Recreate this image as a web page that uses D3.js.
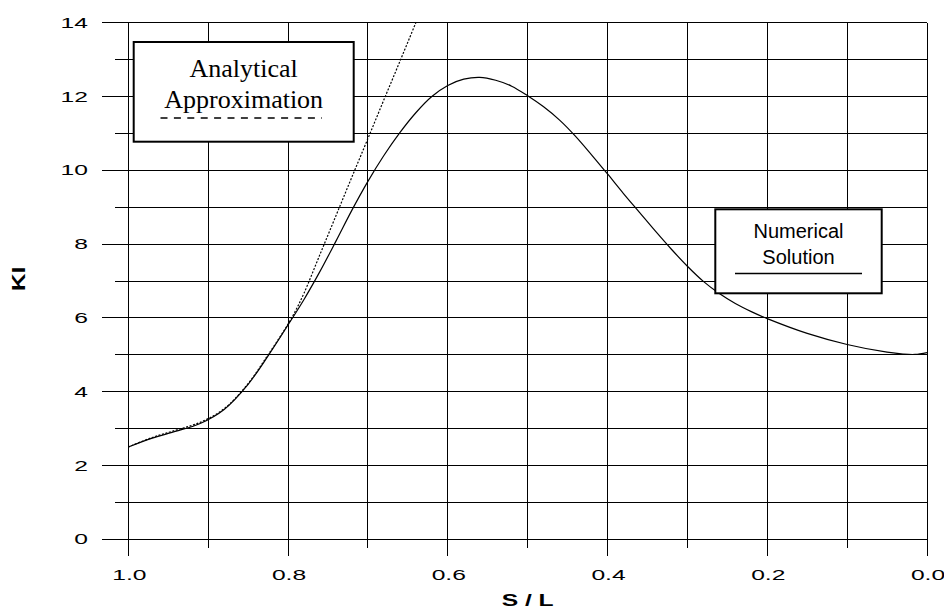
<!DOCTYPE html>
<html><head><meta charset="utf-8">
<script src="https://cdn.jsdelivr.net/npm/d3@7"></script>
<style>
html,body{margin:0;padding:0;background:#fff;}
svg{display:block;}
</style></head>
<body>
<svg id="chart" width="944" height="610"></svg>
<script>
// ---- data ----
const numS = [1.00,0.97,0.94,0.91,0.88,0.85,0.825,0.80,0.78,0.76,0.74,0.72,0.70,0.68,0.66,0.64,0.62,0.60,0.58,0.56,0.54,0.52,0.50,0.48,0.46,0.44,0.42,0.40,0.38,0.36,0.34,0.32,0.30,0.28,0.26,0.24,0.22,0.20,0.15,0.10,0.05,0.03,0.015,0.00];
const numK = [2.50,2.74,2.93,3.14,3.52,4.20,4.97,5.81,6.50,7.26,8.08,8.92,9.70,10.40,11.02,11.56,12.00,12.30,12.47,12.52,12.44,12.28,12.02,11.72,11.36,10.92,10.42,9.90,9.37,8.86,8.35,7.86,7.40,6.99,6.66,6.39,6.17,5.98,5.58,5.28,5.07,5.02,5.01,5.06];
const anaS = [1.00,0.97,0.94,0.91,0.88,0.85,0.825,0.80,0.79,0.78,0.76,0.74,0.72,0.70,0.68,0.66,0.64];
const anaK = [2.50,2.76,2.96,3.17,3.54,4.22,5.00,5.83,6.22,6.67,7.72,8.77,9.82,10.86,11.91,12.95,14.00];
const xTickValues = [1.0,0.8,0.6,0.4,0.2,0.0];
const xTickLabels = ["1.0","0.8","0.6","0.4","0.2","0.0"];
const xMinorValues = [0.9,0.7,0.5,0.3,0.1];
const yTickValues = [0,2,4,6,8,10,12,14];
const yTickLabels = ["0","2","4","6","8","10","12","14"];
const yMinorValues = [1,3,5,7,9,11,13];
const xTitle = "S / L";
const yTitle = "KI";
const legendAnalytical = ["Analytical","Approximation"];
const legendNumerical = ["Numerical","Solution"];

// ---- layout ----
const svg = d3.select("#chart");
const x = d3.scaleLinear().domain([1,0]).range([128.3,927]);
const y = d3.scaleLinear().domain([0,14]).range([539.3,22.7]);
const X0 = x(1), X1 = x(0), Y0 = y(0), Y1 = y(14);
const snap = v => Math.round(v - 0.5) + 0.5;

const grid = svg.append("g").attr("stroke","#000").attr("stroke-width",1).attr("shape-rendering","crispEdges");
yTickValues.forEach(v=>{
  grid.append("line").attr("x1",102).attr("x2",X1).attr("y1",snap(y(v))).attr("y2",snap(y(v)));
});
yMinorValues.forEach(v=>{
  grid.append("line").attr("x1",115).attr("x2",X1).attr("y1",snap(y(v))).attr("y2",snap(y(v)));
});
xTickValues.forEach(v=>{
  grid.append("line").attr("x1",snap(x(v))).attr("x2",snap(x(v))).attr("y1",Y1).attr("y2",556);
});
xMinorValues.forEach(v=>{
  grid.append("line").attr("x1",snap(x(v))).attr("x2",snap(x(v))).attr("y1",Y1).attr("y2",548);
});

const tickFont = "'Liberation Sans', Arial, sans-serif";
yTickValues.forEach((v,i)=>{
  svg.append("text").attr("transform",`translate(88,${y(v)+5}) scale(1.7,1)`)
    .attr("text-anchor","end").attr("font-family",tickFont).attr("font-size",14.5)
    .attr("fill","#000").text(yTickLabels[i]);
});
xTickValues.forEach((v,i)=>{
  svg.append("text").attr("transform",`translate(${x(v)+1},580) scale(1.7,1)`)
    .attr("text-anchor","middle").attr("font-family",tickFont).attr("font-size",14.5)
    .attr("fill","#000").text(xTickLabels[i]);
});
svg.append("text").attr("transform",`translate(${(X0+X1)/2},606) scale(1.45,1)`)
  .attr("text-anchor","middle").attr("font-family",tickFont).attr("font-weight","bold")
  .attr("font-size",17).text(xTitle);
svg.append("text").attr("transform",`translate(25,279) rotate(-90) scale(1.3,1)`)
  .attr("text-anchor","middle").attr("font-family",tickFont).attr("font-weight","bold")
  .attr("font-size",19).text(yTitle);

// curves
const line = d3.line().x(d=>x(d[0])).y(d=>y(d[1])).curve(d3.curveCatmullRom.alpha(0.5));
svg.append("path").datum(numS.map((s,i)=>[s,numK[i]]))
  .attr("d",line).attr("fill","none").attr("stroke","#000").attr("stroke-width",1.2);
svg.append("path").datum(anaS.map((s,i)=>[s,anaK[i]]))
  .attr("d",line).attr("fill","none").attr("stroke","#000").attr("stroke-width",1.2)
  .attr("stroke-dasharray","2,1.6");

// legend: analytical
const serif = "'Liberation Serif','Times New Roman',serif";
const la = svg.append("g");
la.append("rect").attr("x",133.7).attr("y",42).attr("width",220).attr("height",99.7)
  .attr("fill","#fff").attr("stroke","#000").attr("stroke-width",2);
la.append("text").attr("x",243.7).attr("y",76.5).attr("text-anchor","middle")
  .attr("font-family",serif).attr("font-size",26).text(legendAnalytical[0]);
la.append("text").attr("x",243.7).attr("y",108).attr("text-anchor","middle")
  .attr("font-family",serif).attr("font-size",26).text(legendAnalytical[1]);
la.append("line").attr("x1",160.5).attr("x2",322).attr("y1",118).attr("y2",118)
  .attr("stroke","#000").attr("stroke-width",1.6).attr("stroke-dasharray","7,6.4");

// legend: numerical
const ln = svg.append("g");
ln.append("rect").attr("x",715.3).attr("y",209.3).attr("width",166.4).attr("height",84)
  .attr("fill","#fff").attr("stroke","#000").attr("stroke-width",2);
ln.append("text").attr("x",798.5).attr("y",237.7).attr("text-anchor","middle")
  .attr("font-family",tickFont).attr("font-size",20).text(legendNumerical[0]);
ln.append("text").attr("x",798.5).attr("y",264).attr("text-anchor","middle")
  .attr("font-family",tickFont).attr("font-size",20).text(legendNumerical[1]);
ln.append("line").attr("x1",735).attr("x2",862).attr("y1",273.5).attr("y2",273.5)
  .attr("stroke","#000").attr("stroke-width",1.6);
</script>
</body></html>
